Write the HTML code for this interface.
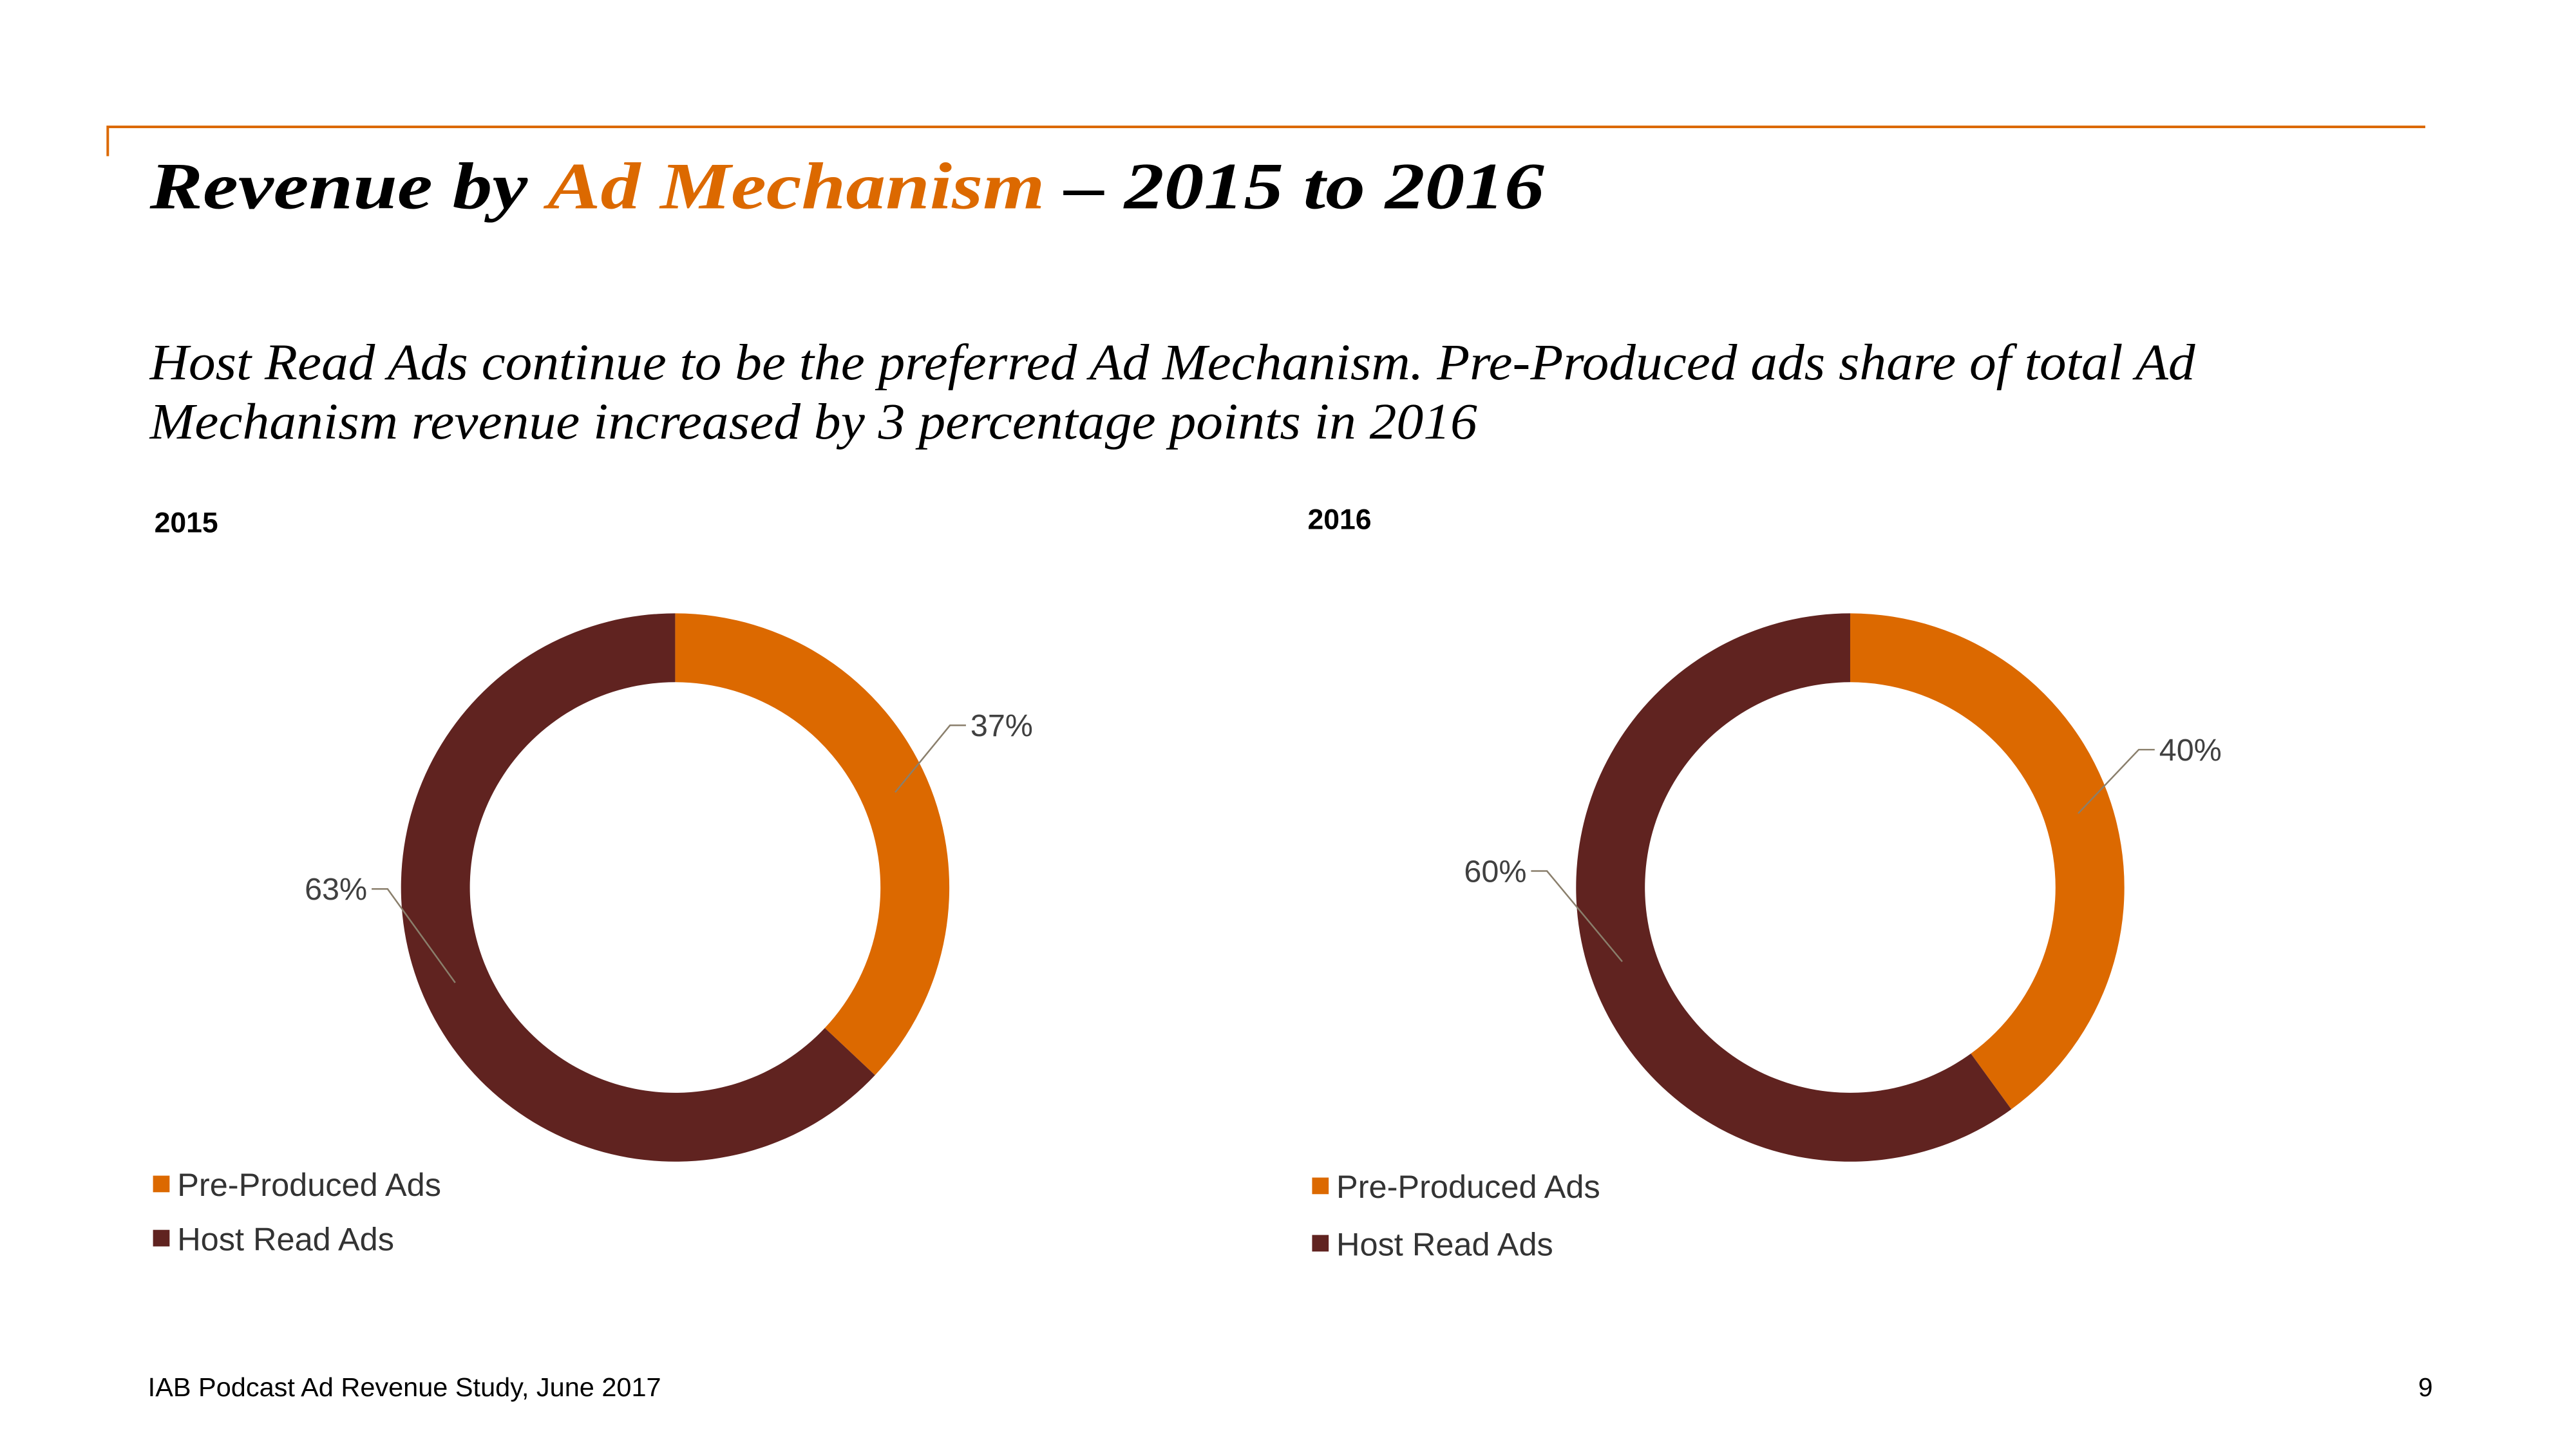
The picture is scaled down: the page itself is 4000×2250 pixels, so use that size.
<!DOCTYPE html>
<html><head><meta charset="utf-8"><style>
html,body{margin:0;padding:0;background:#fff;}
svg{display:block;}
.sans{font-family:"Liberation Sans",sans-serif;}
.serif{font-family:"Liberation Serif",serif;font-style:italic;}
</style></head><body>
<svg id="root" width="4000" height="2250" viewBox="0 0 4000 2250" xmlns="http://www.w3.org/2000/svg">
<g transform="scale(0.99)">
<line x1="168" y1="199" x2="3804" y2="199" stroke="#DC6900" stroke-width="4"/>
<line x1="169" y1="197" x2="169" y2="245" stroke="#DC6900" stroke-width="4"/>
<text x="235" y="327" class="serif" font-weight="bold" font-size="104" textLength="2187" lengthAdjust="spacingAndGlyphs">Revenue by <tspan fill="#DC6900">Ad Mechanism</tspan> – 2015 to 2016</text>
<text x="235" y="595" class="serif" font-size="80" textLength="3208" lengthAdjust="spacingAndGlyphs">Host Read Ads continue to be the preferred Ad Mechanism. Pre-Produced ads share of total Ad</text>
<text x="235" y="688" class="serif" font-size="80" textLength="2082" lengthAdjust="spacingAndGlyphs">Mechanism revenue increased by 3 percentage points in 2016</text>
<text x="242" y="835" class="sans" font-weight="bold" font-size="45">2015</text>
<text x="2051" y="830" class="sans" font-weight="bold" font-size="45">2016</text>
<g id="charts"></g>
<text x="232" y="2190" class="sans" font-size="41" textLength="805" lengthAdjust="spacingAndGlyphs">IAB Podcast Ad Revenue Study, June 2017</text>
<text x="3793" y="2190" class="sans" font-size="41">9</text>
</g>
</svg>
<script>
const categories = ["Pre-Produced Ads", "Host Read Ads"];
const values2015 = [37, 63];
const values2016 = [40, 60];
const colors = ["#DC6900", "#602320"];
const NS = "http://www.w3.org/2000/svg";
const root = document.getElementById("charts");
function mk(tag, attrs){const e=document.createElementNS(NS,tag);for(const k in attrs)e.setAttribute(k,attrs[k]);return e;}
function pt(cx,cy,r,a){return [cx+r*Math.sin(a), cy-r*Math.cos(a)];}
function drawDonut(year, vals, cx, cy, labelOffsets, legendX, legendY, legendGap){
  const g = mk("g",{});
  
  
  root.appendChild(g);
  const R=430, r=322, total=vals.reduce((a,b)=>a+b,0);
  let start=0;
  vals.forEach((v,i)=>{
    const a0=start/total*2*Math.PI, a1=(start+v)/total*2*Math.PI;
    const large=(a1-a0)>Math.PI?1:0;
    const p0=pt(cx,cy,R,a0),p1=pt(cx,cy,R,a1),q1=pt(cx,cy,r,a1),q0=pt(cx,cy,r,a0);
    const path=mk("path",{d:`M${p0[0]},${p0[1]} A${R},${R} 0 ${large} 1 ${p1[0]},${p1[1]} L${q1[0]},${q1[1]} A${r},${r} 0 ${large} 0 ${q0[0]},${q0[1]} Z`,fill:colors[i]});
    
    
    g.appendChild(path);
    const am=(a0+a1)/2, s=pt(cx,cy,(R+r)/2,am);
    const off=labelOffsets[i];
    const ex=s[0]+off[0], ey=s[1]+off[1];
    const dir = off[0]>0?1:-1;
    const ln=mk("polyline",{points:`${s[0]},${s[1]} ${ex},${ey} ${ex+dir*25},${ey}`,fill:"none",stroke:"#8a7f6c","stroke-width":"2.5"});
    
    
    g.appendChild(ln);
    const t=mk("text",{x:ex+dir*32,y:ey+17,"font-size":"49",fill:"#404040","text-anchor":dir>0?"start":"end",class:"sans"});
    t.textContent=Math.round(v/total*100)+"%";
    
    
    g.appendChild(t);
    start+=v;
  });
  categories.forEach((c,i)=>{
    const y=legendY+i*legendGap;
    const sq=mk("rect",{x:legendX,y:y-32,width:26,height:26,fill:colors[i]});
    
    
    g.appendChild(sq);
    const t=mk("text",{x:legendX+38,y:y,"font-size":"51",fill:"#333",class:"sans"});
    t.textContent=c;
    
    
    g.appendChild(t);
  });
}
drawDonut("2015", values2015, 1059, 1392, [[86,-105],[-106,-147]], 240, 1876, 85);
drawDonut("2016", values2016, 2902, 1392, [[95,-100],[-118,-142]], 2058, 1879, 90);
</script>
</body></html>
